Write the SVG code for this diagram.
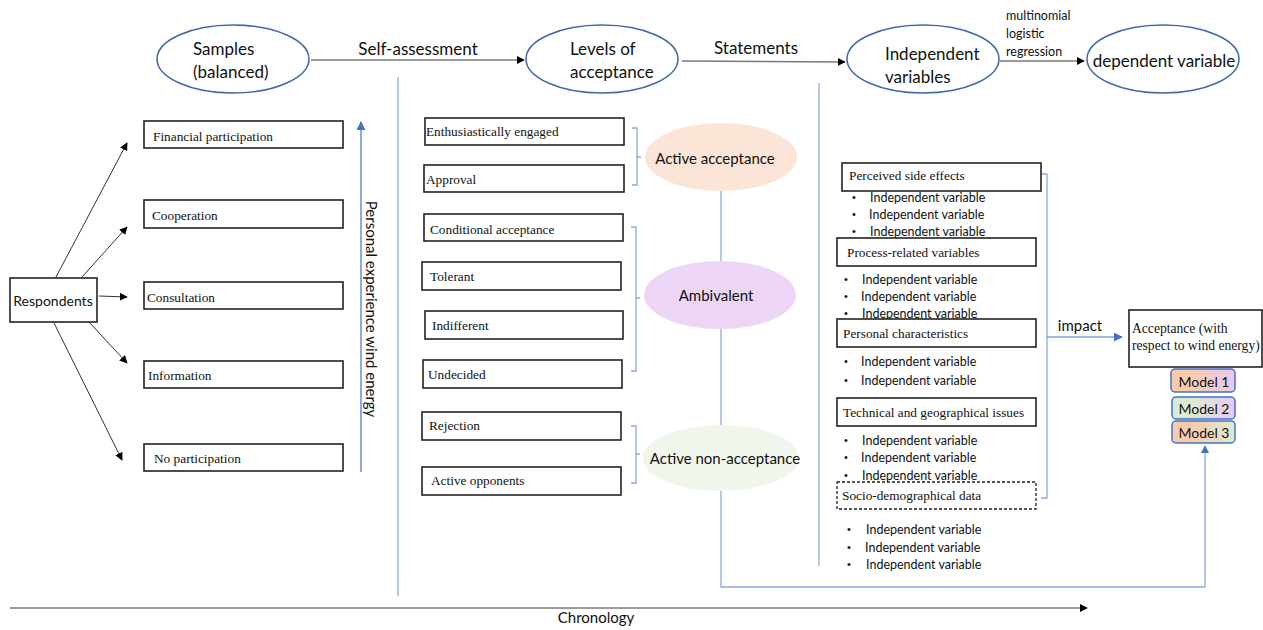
<svg xmlns="http://www.w3.org/2000/svg" width="1263" height="630" viewBox="0 0 1263 630">
  <style>
    .bg { fill: #ffffff; }
    .oval { fill: #ffffff; stroke: #3f68ab; stroke-width: 1.5; }
    .box { fill: #ffffff; stroke: #222222; stroke-width: 1.6; }
    .dash { fill: #ffffff; stroke: #222222; stroke-width: 1.3; stroke-dasharray: 3 2; }
    .sans { font-family: Lato, "Liberation Sans", sans-serif; fill: #111111; }
    .serif { font-family: "Liberation Serif", serif; fill: #111111; font-size: 13.3px; }
    .big { font-size: 17px; }
    .mid { font-size: 15px; }
    .small { font-size: 12.5px; }
    .dot { font-family: "Liberation Sans", sans-serif; font-size: 11px; fill: #111111; }
    .ln { fill: none; stroke: #333333; stroke-width: 1; }
    .grey { fill: none; stroke: #7a7a7a; stroke-width: 1.4; }
    .blue { fill: none; stroke: #8faadc; stroke-width: 1.3; }
    .bluearrow { fill: none; stroke: #4472c4; stroke-width: 1.2; }
    .model { stroke: #4472c4; stroke-width: 1.5; }
  </style>
  <defs>
    <marker id="ah" viewBox="0 0 10 10" refX="9" refY="5" markerWidth="8" markerHeight="8" markerUnits="userSpaceOnUse" orient="auto">
      <path d="M0,0 L10,5 L0,10 z" fill="#000000"/>
    </marker>
    <marker id="ahb" viewBox="0 0 10 10" refX="9" refY="5" markerWidth="9" markerHeight="9" markerUnits="userSpaceOnUse" orient="auto">
      <path d="M0,0 L10,5 L0,10 z" fill="#4472c4"/>
    </marker>
    <linearGradient id="g1" x1="0" x2="1" y1="0" y2="0">
      <stop offset="0.3" stop-color="#f8cbad"/>
      <stop offset="1" stop-color="#e9c8f4"/>
    </linearGradient>
    <linearGradient id="g2" x1="0" x2="1" y1="0" y2="0">
      <stop offset="0.3" stop-color="#dcebd3"/>
      <stop offset="1" stop-color="#e9c8f4"/>
    </linearGradient>
    <linearGradient id="g3" x1="0" x2="1" y1="0" y2="0">
      <stop offset="0.3" stop-color="#f8cbad"/>
      <stop offset="1" stop-color="#dcebd3"/>
    </linearGradient>
  </defs>

  <rect class="bg" x="0" y="0" width="1263" height="630"/>

  <!-- connectors -->
  <g id="connectors">
    <!-- top flow -->
    <line class="grey" x1="311" y1="60" x2="524" y2="60" marker-end="url(#ah)"/>
    <line class="grey" x1="682" y1="61" x2="845" y2="62" marker-end="url(#ah)"/>
    <line class="grey" x1="1000" y1="61" x2="1084" y2="61" marker-end="url(#ah)"/>
    <!-- section dividers -->
    <line class="blue" x1="398" y1="77" x2="398" y2="596"/>
    <line class="blue" x1="819" y1="83" x2="819" y2="566"/>
    <!-- respondents fan-out -->
    <line class="ln" x1="56" y1="277" x2="127" y2="143" marker-end="url(#ah)"/>
    <line class="ln" x1="82" y1="277" x2="127" y2="227" marker-end="url(#ah)"/>
    <line class="ln" x1="99" y1="296" x2="127" y2="297" marker-end="url(#ah)"/>
    <line class="ln" x1="89" y1="322" x2="127" y2="363" marker-end="url(#ah)"/>
    <line class="ln" x1="54" y1="323" x2="122" y2="460" marker-end="url(#ah)"/>
    <!-- personal experience axis -->
    <line class="bluearrow" x1="361" y1="472" x2="361" y2="122" marker-end="url(#ahb)"/>
    <!-- braces -->
    <path class="blue" d="M632,128 H637 V185 H632 M637,157 H641"/>
    <path class="blue" d="M631,227 H636 V371 H631 M636,298 H640"/>
    <path class="blue" d="M631,426 H636 V483 H631 M636,454 H640"/>
    <!-- acceptance chain -->
    <line class="blue" x1="721" y1="191" x2="721" y2="262"/>
    <line class="blue" x1="721" y1="329" x2="721" y2="425"/>
    <polyline class="blue" points="721,491 721,587 1205,587 1205,448"/>
    <path d="M1201,453 L1205,445 L1209,453 z" fill="#4472c4"/>
    <!-- variables bracket and impact -->
    <path class="blue" d="M1041,174 H1047 V498 H1041"/>
    <line class="bluearrow" x1="1047" y1="337" x2="1122" y2="337" marker-end="url(#ahb)"/>
    <!-- chronology -->
    <line class="grey" x1="10" y1="608" x2="1087" y2="608" marker-end="url(#ah)"/>
  </g>

  <!-- connector labels -->
  <g id="labels">
    <text class="sans big" x="418" y="55" text-anchor="middle">Self-assessment</text>
    <text class="sans big" x="756" y="54" text-anchor="middle">Statements</text>
    <text class="sans small" x="1006" y="20">multinomial</text>
    <text class="sans small" x="1006" y="38">logistic</text>
    <text class="sans small" x="1006" y="56">regression</text>
    <text class="sans mid" x="1080" y="331" text-anchor="middle">impact</text>
    <text class="sans mid" x="0" y="0" text-anchor="middle" transform="translate(366,309) rotate(90)">Personal experience wind energy</text>
    <text class="sans mid" x="596" y="623" text-anchor="middle">Chronology</text>
  </g>

  <!-- top ovals -->
  <g id="samples">
    <ellipse class="oval" cx="233" cy="59" rx="76" ry="34"/>
    <text class="sans big" x="193" y="55">Samples</text>
    <text class="sans big" x="193" y="78">(balanced)</text>
  </g>
  <g id="levels">
    <ellipse class="oval" cx="602" cy="59" rx="76" ry="34"/>
    <text class="sans big" x="570" y="55">Levels of</text>
    <text class="sans big" x="570" y="78">acceptance</text>
  </g>
  <g id="independent">
    <ellipse class="oval" cx="923" cy="59" rx="76" ry="34"/>
    <text class="sans big" x="885" y="60">Independent</text>
    <text class="sans big" x="885" y="83">variables</text>
  </g>
  <g id="dependent">
    <ellipse class="oval" cx="1163" cy="59" rx="76" ry="34"/>
    <text class="sans big" x="1164" y="67" text-anchor="middle">dependent variable</text>
  </g>

  <!-- respondents and participation levels -->
  <g id="respondents">
    <rect class="box" x="10" y="278" width="87" height="44"/>
    <text class="sans" font-size="14" x="53" y="306" text-anchor="middle">Respondents</text>
  </g>
  <g id="financial">
    <rect class="box" x="144" y="121" width="199" height="27"/>
    <text class="serif" x="153" y="141">Financial participation</text>
  </g>
  <g id="cooperation">
    <rect class="box" x="144" y="200" width="199" height="28"/>
    <text class="serif" x="152" y="220">Cooperation</text>
  </g>
  <g id="consultation">
    <rect class="box" x="144" y="282" width="199" height="27"/>
    <text class="serif" x="147" y="302">Consultation</text>
  </g>
  <g id="information">
    <rect class="box" x="144" y="361" width="199" height="27"/>
    <text class="serif" x="148" y="380">Information</text>
  </g>
  <g id="noparticipation">
    <rect class="box" x="144" y="444" width="199" height="27"/>
    <text class="serif" x="154" y="463">No participation</text>
  </g>

  <!-- acceptance levels -->
  <g id="enthusiastic">
    <rect class="box" x="425" y="118" width="199" height="27"/>
    <text class="serif" x="426" y="136">Enthusiastically engaged</text>
  </g>
  <g id="approval">
    <rect class="box" x="424" y="165" width="200" height="27"/>
    <text class="serif" x="426" y="184">Approval</text>
  </g>
  <g id="conditional">
    <rect class="box" x="424" y="214" width="199" height="27"/>
    <text class="serif" x="430" y="234">Conditional acceptance</text>
  </g>
  <g id="tolerant">
    <rect class="box" x="422" y="262" width="199" height="28"/>
    <text class="serif" x="430" y="281">Tolerant</text>
  </g>
  <g id="indifferent">
    <rect class="box" x="425" y="311" width="198" height="28"/>
    <text class="serif" x="432" y="330">Indifferent</text>
  </g>
  <g id="undecided">
    <rect class="box" x="423" y="360" width="199" height="28"/>
    <text class="serif" x="428" y="379">Undecided</text>
  </g>
  <g id="rejection">
    <rect class="box" x="422" y="412" width="199" height="28"/>
    <text class="serif" x="429" y="430">Rejection</text>
  </g>
  <g id="opponents">
    <rect class="box" x="422" y="467" width="199" height="28"/>
    <text class="serif" x="431" y="485">Active opponents</text>
  </g>

  <!-- acceptance groups -->
  <g id="activeacceptance">
    <ellipse cx="721" cy="157" rx="76" ry="34" fill="#fbe5d6"/>
    <text class="sans mid" x="715" y="164" text-anchor="middle">Active acceptance</text>
  </g>
  <g id="ambivalent">
    <ellipse cx="720" cy="295" rx="76" ry="34" fill="#edd5f5"/>
    <text class="sans mid" x="716" y="301" text-anchor="middle">Ambivalent</text>
  </g>
  <g id="nonacceptance">
    <ellipse cx="721" cy="458" rx="78" ry="33" fill="#f1f6ec"/>
    <text class="sans mid" x="725" y="464" text-anchor="middle">Active non-acceptance</text>
  </g>

  <!-- variable groups -->
  <g id="sideeffects">
    <rect class="box" x="842" y="163" width="199" height="28"/>
    <text class="serif" x="849" y="180">Perceived side effects</text>
    <text class="dot" x="852" y="201">•</text>
    <text class="sans small" x="870" y="202">Independent variable</text>
    <text class="dot" x="852" y="218">•</text>
    <text class="sans small" x="869" y="219">Independent variable</text>
    <text class="dot" x="852" y="235">•</text>
    <text class="sans small" x="870" y="236">Independent variable</text>
  </g>
  <g id="process">
    <rect class="box" x="837" y="238" width="199" height="28"/>
    <text class="serif" x="847" y="257">Process-related variables</text>
    <text class="dot" x="844" y="283">•</text>
    <text class="sans small" x="862" y="284">Independent variable</text>
    <text class="dot" x="844" y="300">•</text>
    <text class="sans small" x="861" y="301">Independent variable</text>
    <text class="dot" x="844" y="317">•</text>
    <text class="sans small" x="862" y="318">Independent variable</text>
  </g>
  <g id="personal">
    <rect class="box" x="837" y="319" width="199" height="28"/>
    <text class="serif" x="843" y="338">Personal characteristics</text>
    <text class="dot" x="844" y="365">•</text>
    <text class="sans small" x="861" y="366">Independent variable</text>
    <text class="dot" x="844" y="384">•</text>
    <text class="sans small" x="861" y="385">Independent variable</text>
  </g>
  <g id="technical">
    <rect class="box" x="837" y="398" width="199" height="28"/>
    <text class="serif" x="843" y="417">Technical and geographical issues</text>
    <text class="dot" x="844" y="444">•</text>
    <text class="sans small" x="862" y="445">Independent variable</text>
    <text class="dot" x="844" y="461">•</text>
    <text class="sans small" x="861" y="462">Independent variable</text>
    <text class="dot" x="844" y="479">•</text>
    <text class="sans small" x="862" y="480">Independent variable</text>
  </g>
  <g id="sociodemographic">
    <rect class="dash" x="837" y="482" width="199" height="27"/>
    <text class="serif" x="842" y="500">Socio-demographical data</text>
    <text class="dot" x="847" y="533">•</text>
    <text class="sans small" x="866" y="534">Independent variable</text>
    <text class="dot" x="847" y="551">•</text>
    <text class="sans small" x="865" y="552">Independent variable</text>
    <text class="dot" x="847" y="568">•</text>
    <text class="sans small" x="866" y="569">Independent variable</text>
  </g>

  <!-- outcome -->
  <g id="acceptance">
    <rect class="box" x="1129" y="310" width="133" height="57"/>
    <text class="serif" style="font-size:13.6px" x="1132" y="333">Acceptance (with</text>
    <text class="serif" style="font-size:13.6px" x="1132" y="350">respect to wind energy)</text>
  </g>
  <g id="model1">
    <rect class="model" x="1171" y="369" width="64" height="23" rx="4" fill="url(#g1)"/>
    <text class="sans" font-size="14" x="1204" y="387" text-anchor="middle">Model 1</text>
  </g>
  <g id="model2">
    <rect class="model" x="1172" y="397" width="63" height="22" rx="4" fill="url(#g2)"/>
    <text class="sans" font-size="14" x="1204" y="414" text-anchor="middle">Model 2</text>
  </g>
  <g id="model3">
    <rect class="model" x="1172" y="421" width="63" height="22" rx="4" fill="url(#g3)"/>
    <text class="sans" font-size="14" x="1204" y="438" text-anchor="middle">Model 3</text>
  </g>
</svg>
